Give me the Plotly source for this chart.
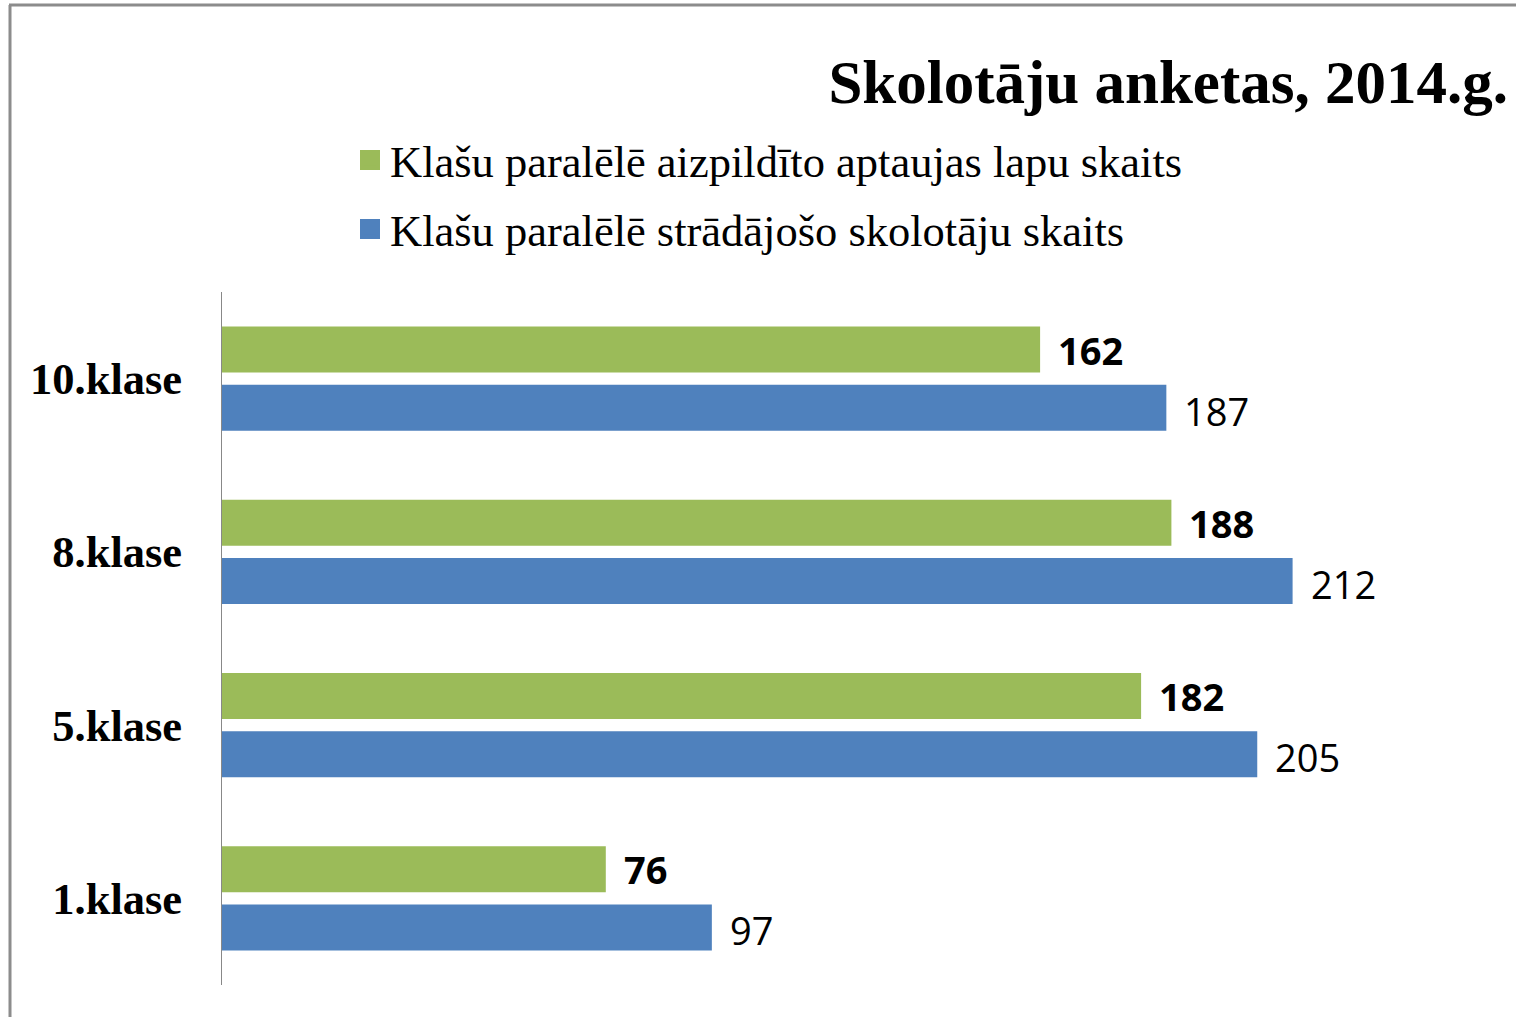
import plotly.graph_objects as go

# ---- data ----
categories = ["1.klase", "5.klase", "8.klase", "10.klase"]  # bottom -> top
filled_forms = [76, 182, 188, 162]      # green
teachers = [97, 205, 212, 187]          # blue
series_names = [
    "Klašu paralēlē aizpildīto aptaujas lapu skaits",
    "Klašu paralēlē strādājošo skolotāju skaits",
]
title_text = "Skolotāju anketas, 2014.g."

GREEN = "#9BBB59"
BLUE = "#4F81BD"
SERIF = "Liberation Serif, Times New Roman, serif"
SANS = "Open Sans, Calibri, sans-serif"

W, H = 1516, 1017
ML, MR, MT, MB = 222, 16, 292, 32
PW, PH = W - ML - MR, H - MT - MB
XMAX = PW / 5.05

def px_x(px):
    return (px - ML) / PW

def px_y(py):
    return (H - MB - py) / PH

fig = go.Figure()
fig.add_trace(go.Bar(
    y=categories, x=teachers, orientation="h", name=series_names[1],
    marker=dict(color=BLUE, line=dict(width=0)), legendrank=2, legendgroup="b",
))
fig.add_trace(go.Bar(
    y=categories, x=filled_forms, orientation="h", name=series_names[0],
    marker=dict(color=GREEN, line=dict(width=0)), legendrank=1, legendgroup="g",
))

annotations = []
for cat, v in zip(categories, filled_forms):
    annotations.append(dict(x=v, y=cat, xref="x", yref="y", text=f"<b>{v}</b>",
                            showarrow=False, xanchor="left", yanchor="middle",
                            xshift=16, yshift=29,
                            font=dict(family=SANS, size=38, color="black")))
for cat, v in zip(categories, teachers):
    annotations.append(dict(x=v, y=cat, xref="x", yref="y", text=f"{v}",
                            showarrow=False, xanchor="left", yanchor="middle",
                            xshift=16, yshift=-32,
                            font=dict(family=SANS, size=38, color="black")))

shapes = [
    dict(type="line", xref="paper", yref="paper",
         x0=px_x(10), x1=px_x(10), y0=px_y(5), y1=px_y(H + 5),
         line=dict(color="#8c8c8c", width=3)),
    dict(type="line", xref="paper", yref="paper",
         x0=px_x(9), x1=px_x(W + 5), y0=px_y(5), y1=px_y(5),
         line=dict(color="#8c8c8c", width=3)),
]
# larger legend key squares (behind the native legend symbols)
for color, cy in ((GREEN, 160), (BLUE, 229)):
    shapes.append(dict(type="rect", xref="paper", yref="paper",
                       x0=px_x(360), x1=px_x(380), y0=px_y(cy + 10), y1=px_y(cy - 10),
                       fillcolor=color, line=dict(width=0), layer="above"))

fig.update_layout(
    width=W, height=H,
    margin=dict(l=ML, r=MR, t=MT, b=MB, pad=0),
    paper_bgcolor="white", plot_bgcolor="white",
    barmode="group", bargap=0.33, bargroupgap=0.207,
    title=dict(text=f"<b>{title_text}</b>", xref="container", yref="container",
               x=(W - 8) / W, xanchor="right", y=1 - 82 / H, yanchor="middle",
               font=dict(family=SERIF, size=61, color="black")),
    showlegend=True,
    legend=dict(x=px_x(350), xanchor="left", y=px_y(124), yanchor="top",
                font=dict(family=SERIF, size=44.5, color="black"),
                bgcolor="rgba(0,0,0,0)", traceorder="grouped", tracegroupgap=8),
    xaxis=dict(visible=False, range=[0, XMAX], fixedrange=True),
    yaxis=dict(categoryorder="array", categoryarray=categories,
               showline=True, linecolor="#888888", linewidth=1,
               ticks="", showgrid=False, zeroline=False, fixedrange=True,
               ticklabelstandoff=30,
               tickfont=dict(family=SERIF, size=44.5, color="black", weight="bold")),
    annotations=annotations,
    shapes=shapes,
)

fig.write_html("out.html", config={"displayModeBar": False},
               post_script="document.body.style.margin='0';document.body.style.overflow='hidden';")
